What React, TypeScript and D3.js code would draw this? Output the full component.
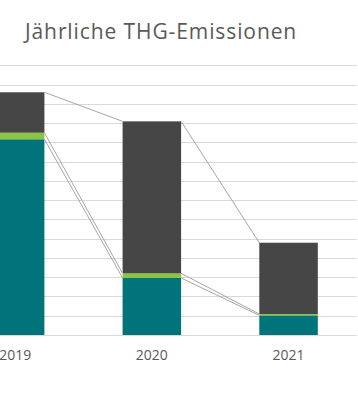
import { useEffect, useRef } from 'react'
import * as d3 from 'd3'

const YEARS = ['2019', '2020', '2021']
// stacked parts, one gridline = 1 unit
const TEAL = [10.16, 2.96, 1.02]
const GREEN = [0.34, 0.24, 0.07]
const DARK = [2.1, 7.89, 3.7]
const SERIES = [
  { key: 'teal', values: TEAL, color: '#00747a' },
  { key: 'green', values: GREEN, color: '#8cc63f' },
  { key: 'dark', values: DARK, color: '#464646' },
]
const Y_MAX = 14

const W = 358
const H = 400

export default function App() {
  const svgRef = useRef<SVGSVGElement>(null)

  useEffect(() => {
    if (!svgRef.current) return
    const svg = d3.select(svgRef.current)
    svg.selectAll('*').remove()

    const x = d3.scaleBand<string>()
      .domain(YEARS)
      .range([-53.2, 356.9])
      .paddingInner(0.572)
      .paddingOuter(0.286)
    const y = d3.scaleLinear().domain([0, Y_MAX]).range([335, 65.3])

    const g = svg.append('g')

    // gridlines
    g.selectAll('line.grid')
      .data(d3.range(0, Y_MAX + 1))
      .join('line')
      .attr('class', 'grid')
      .attr('x1', x.range()[0]).attr('x2', x.range()[1])
      .attr('y1', d => Math.round(y(d)) + 0.5).attr('y2', d => Math.round(y(d)) + 0.5)
      .attr('stroke', '#d9d9d9').attr('stroke-width', 1)

    // stacked cumulative values
    const stacked = YEARS.map((yr, i) => {
      let acc = 0
      return SERIES.map(s => {
        const y0 = acc
        acc += s.values[i]
        return { yr, key: s.key, color: s.color, y0, y1: acc }
      })
    })

    const bw = x.bandwidth()
    stacked.forEach(parts => {
      g.selectAll(null)
        .data(parts)
        .join('rect')
        .attr('x', d => x(d.yr)!)
        .attr('width', bw)
        .attr('y', d => y(d.y1))
        .attr('height', d => y(d.y0) - y(d.y1))
        .attr('fill', d => d.color)
    })

    // series lines between bars
    for (let i = 0; i < YEARS.length - 1; i++) {
      const a = stacked[i], b = stacked[i + 1]
      a.forEach((p, j) => {
        g.append('line')
          .attr('x1', x(YEARS[i])! + bw).attr('x2', x(YEARS[i + 1])!)
          .attr('y1', y(p.y1)).attr('y2', y(b[j].y1))
          .attr('stroke', '#a6a6a6').attr('stroke-width', 1)
      })
    }

    // category labels
    g.selectAll('text.cat')
      .data(YEARS)
      .join('text')
      .attr('class', 'cat')
      .attr('x', d => x(d)! + bw / 2)
      .attr('y', 360)
      .attr('text-anchor', 'middle')
      .style('fill', '#595959')
      .style('font-size', '14px')
      .style('font-family', '"Open Sans", sans-serif')
      .text(d => d)

    svg.append('text')
      .attr('x', 25).attr('y', 39)
      .style('fill', '#595959')
      .style('font-size', '21px')
      .style('letter-spacing', '0.9px')
      .style('font-family', '"Open Sans", sans-serif')
      .text('Jährliche THG-Emissionen')
  }, [])

  return (
    <svg
      ref={svgRef}
      width={W}
      height={H}
      style={{ position: 'fixed', top: 0, left: 0, background: '#fff' }}
    />
  )
}
